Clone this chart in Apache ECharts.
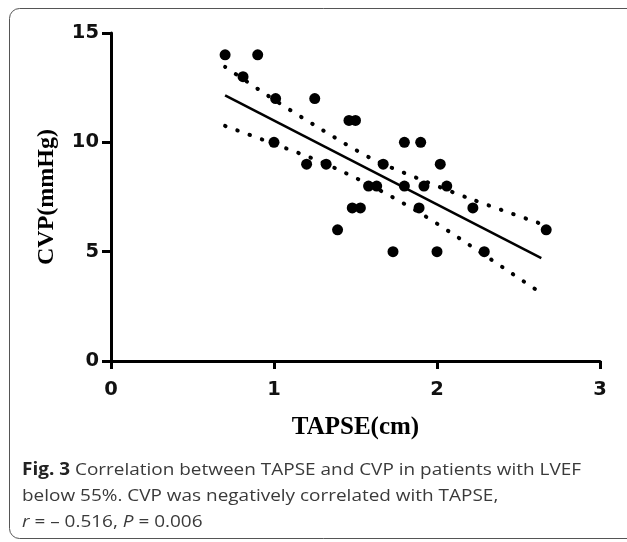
<!DOCTYPE html>
<html><head><meta charset="utf-8">
<script src="https://cdn.jsdelivr.net/npm/echarts@6/dist/echarts.min.js"></script>
<style>html,body{margin:0;padding:0;background:#fff}#c{width:627px;height:542px}</style>
</head><body><div id="c"></div>
<script>
// Observed points: TAPSE (cm), CVP (mmHg)
const tapse = [0.70,0.90,0.81,1.01,1.25,1.46,1.50,1.00,1.80,1.90,1.20,1.32,1.67,2.02,1.58,1.63,1.80,1.92,2.06,1.48,1.53,1.89,2.22,1.39,2.67,1.73,2.00,2.29];
const cvp   = [14,14,13,12,12,11,11,10,10,10,9,9,9,9,8,8,8,8,8,7,7,7,7,6,6,5,5,5];
// Regression line end points
const fitX = [0.70, 2.64];
const fitY = [12.15, 4.70];
// 95% confidence band samples
const bandX = [0.70,1.00,1.30,1.60,1.90,2.20,2.64];
const bandUpper = [13.45,11.95,10.55,9.25,8.30,7.43,6.27];
const bandLower = [10.75,9.93,9.07,8.00,6.75,5.30,3.10];
const xTicks = [0,1,2,3];
const yTicks = [0,5,10,15];

const zip = (a,b)=>a.map((v,i)=>[v,b[i]]);
const chart = echarts.init(document.getElementById('c'));
const dotted = {color:'#000', width:4, type:[0.5,12.5], cap:'round'};
const tickLabel = {fontFamily:'DejaVu Sans', fontWeight:'bold', fontSize:19.5, color:'#111'};
const nameStyle = {fontFamily:'Liberation Serif', fontWeight:'bold', fontSize:25, color:'#000'};
chart.setOption({
  animation:false,
  backgroundColor:'#fff',
  grid:{left:111, top:33, width:489, height:328},
  xAxis:{type:'value', min:xTicks[0], max:xTicks[xTicks.length-1], interval:1,
    name:'TAPSE(cm)', nameLocation:'middle', nameGap:54, nameTextStyle:nameStyle,
    axisLine:{show:true, onZero:false, lineStyle:{color:'#000', width:3}},
    axisTick:{show:true, length:8, lineStyle:{color:'#000', width:3}},
    axisLabel:Object.assign({margin:19}, tickLabel),
    splitLine:{show:false}},
  yAxis:{type:'value', min:yTicks[0], max:yTicks[yTicks.length-1], interval:5,
    name:'CVP(mmHg)', nameLocation:'middle', nameGap:52, nameRotate:90,
    nameTextStyle:Object.assign({}, nameStyle, {fontSize:24}),
    axisLine:{show:true, onZero:false, lineStyle:{color:'#000', width:3}},
    axisTick:{show:true, length:9, lineStyle:{color:'#000', width:3}},
    axisLabel:Object.assign({margin:12}, tickLabel),
    splitLine:{show:false}},
  series:[
    {type:'line', data:zip(bandX,bandUpper), smooth:0.3, symbol:'none', lineStyle:dotted, z:2},
    {type:'line', data:zip(bandX,bandLower), smooth:0.3, symbol:'none', lineStyle:dotted, z:2},
    {type:'line', data:zip(fitX,fitY), symbol:'none', lineStyle:{color:'#000', width:2.5}, z:3},
    {type:'scatter', data:zip(tapse,cvp), symbol:'circle', symbolSize:11, itemStyle:{color:'#000', opacity:1}, z:4}
  ],
  graphic:[
    {type:'rect', shape:{x:9.5, y:8.5, width:640, height:530, r:10}, style:{fill:'none', stroke:'#555', lineWidth:1}, z:-1},
    {type:'text', x:22, y:457, scaleX:1.115, style:{
      text:'{b|Fig. 3} Correlation between TAPSE and CVP in patients with LVEF\nbelow 55%. CVP was negatively correlated with TAPSE,\n{i|r} = – 0.516, {i|P} = 0.006',
      font:'17px "Open Sans"', fill:'#3a3a3a', lineHeight:26,
      rich:{b:{font:'bold 17px "Open Sans"', fill:'#222', lineHeight:26}, i:{font:'italic 17px "Open Sans"', fill:'#3a3a3a', lineHeight:26}}
    }}
  ]
});
</script></body></html>
